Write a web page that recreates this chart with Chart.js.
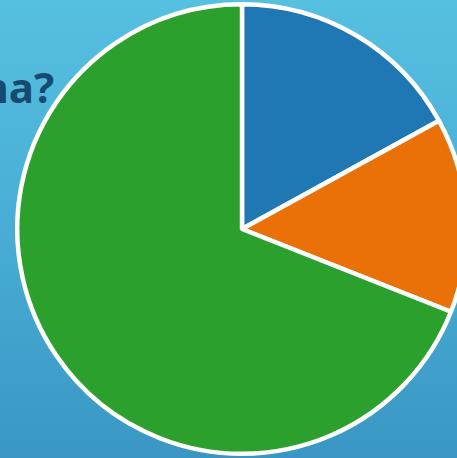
<!DOCTYPE html>
<html>
<head>
<meta charset="utf-8">
<script src="https://cdn.jsdelivr.net/npm/chart.js@4/dist/chart.umd.min.js"></script>
<style>
  html, body { margin: 0; padding: 0; width: 457px; height: 458px; overflow: hidden; }
  body { background: linear-gradient(to bottom, #56c0e1 0%, #4aafd6 45%, #3a97c4 100%); position: relative; }
  #title { position: absolute; right: 403px; top: 58px; font-family: "Noto Sans", sans-serif; font-weight: 700; font-size: 42px; color: #164a6e; white-space: nowrap; }
  #wrap { position: absolute; left: 13px; top: 0px; width: 458px; height: 458px; }
</style>
</head>
<body>
<div id="title">Kenellä ona?</div>
<div id="wrap"><canvas id="c" width="458" height="458"></canvas></div>
<script>
const categories = ["A", "B", "C"];
const values = [17, 14, 69];
const colors = ["#1f77b4", "#ea7108", "#2ca02c"];

new Chart(document.getElementById("c"), {
  type: "pie",
  data: {
    labels: categories,
    datasets: [{
      data: values,
      backgroundColor: colors,
      borderColor: "#ffffff",
      borderWidth: 4.5
    }]
  },
  options: {
    responsive: false,
    animation: false,
    layout: { padding: 2 },
    plugins: { legend: { display: false }, tooltip: { enabled: false }, title: { display: false } }
  }
});
</script>
</body>
</html>
